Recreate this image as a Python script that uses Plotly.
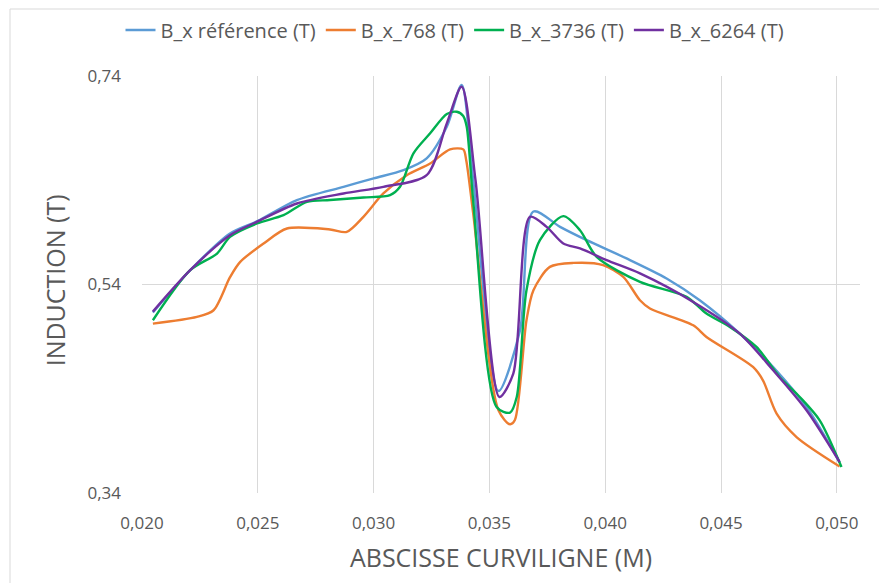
import plotly.graph_objects as go

# Values
x_ref = [0.02047, 0.02208, 0.0238, 0.0250, 0.02669, 0.0287, 0.0300, 0.03129, 0.03229, 0.03316, 0.0338,
         0.0343, 0.03539, 0.03632, 0.0369, 0.03805, 0.0392, 0.04092, 0.04265, 0.04408, 0.04581,
         0.04725, 0.04869, 0.05012]
y_ref = [0.5131, 0.5537, 0.589, 0.601, 0.621, 0.6337, 0.6418, 0.6497, 0.661, 0.6913, 0.7314,
         0.640, 0.4378, 0.496, 0.610, 0.5953, 0.5825, 0.565, 0.5458, 0.5249, 0.4929,
         0.4609, 0.4225, 0.3697]

x_768 = [0.02047, 0.02237, 0.02309, 0.0238, 0.02424, 0.02525, 0.02626, 0.02812, 0.02884, 0.02956,
         0.03042, 0.03143, 0.03244, 0.0333, 0.03387, 0.0340, 0.0343, 0.03539, 0.03589, 0.0361,
         0.0366, 0.0369, 0.03761, 0.03862, 0.03991, 0.04078, 0.0415, 0.04193, 0.0438, 0.04437,
         0.04638, 0.04681, 0.0474, 0.04826, 0.05012]
y_768 = [0.5025, 0.5089, 0.5153, 0.547, 0.5617, 0.5793, 0.5937, 0.5928, 0.5905, 0.6049,
         0.6273, 0.6449, 0.6561, 0.6696, 0.6696, 0.659, 0.608, 0.4193, 0.4059, 0.410,
         0.5057, 0.5345, 0.5569, 0.5607, 0.5586, 0.5473, 0.5249, 0.517, 0.5009, 0.4897,
         0.4609, 0.4481, 0.4161, 0.3937, 0.3655]

x_3736 = [0.02047, 0.02208, 0.02324, 0.0238, 0.02496, 0.02611, 0.02712, 0.02812, 0.02956, 0.03071,
          0.03114, 0.03172, 0.03244, 0.03316, 0.03359, 0.03387, 0.03402, 0.0343, 0.03531, 0.03589,
          0.03618, 0.0366, 0.03718, 0.03819, 0.03891, 0.03963, 0.0415, 0.04351, 0.04437, 0.04538,
          0.04653, 0.04753, 0.0484, 0.04926, 0.0502]
y_3736 = [0.5057, 0.5537, 0.5697, 0.5857, 0.5985, 0.6065, 0.6193, 0.621, 0.6235, 0.6257,
          0.6337, 0.6658, 0.685, 0.7035, 0.7057, 0.7016, 0.6913, 0.620, 0.4225, 0.4171,
          0.4321, 0.5345, 0.5825, 0.6056, 0.5921, 0.5665, 0.5425, 0.5281, 0.5121, 0.4993,
          0.4801, 0.4513, 0.4321, 0.4097, 0.3649]

x_6264 = [0.02047, 0.02208, 0.0238, 0.02496, 0.02669, 0.0287, 0.03042, 0.03229, 0.03316, 0.0338,
          0.0344, 0.03543, 0.03603, 0.03675, 0.03747, 0.03819, 0.03891, 0.04006, 0.0415, 0.0438,
          0.04581, 0.04725, 0.04869, 0.05012]
y_6264 = [0.5140, 0.5537, 0.5873, 0.6001, 0.6177, 0.6273, 0.6337, 0.6449, 0.6946, 0.7297,
          0.640, 0.4321, 0.4545, 0.6049, 0.5953, 0.5793, 0.5746, 0.5633, 0.5506, 0.5233,
          0.4929, 0.4577, 0.4193, 0.3697]

series = [
    ("B_x référence (T)", x_ref, y_ref, "#5B9BD5"),
    ("B_x_768 (T)", x_768, y_768, "#ED7D31"),
    ("B_x_3736 (T)", x_3736, y_3736, "#00B050"),
    ("B_x_6264 (T)", x_6264, y_6264, "#7030A0"),
]

fig = go.Figure()
for name, xs, ys, color in series:
    fig.add_trace(go.Scatter(
        x=xs, y=ys, name=name, mode="lines",
        line=dict(color=color, width=2.4, shape="spline", smoothing=0.8),
    ))

font_family = "Open Sans, Liberation Sans, sans-serif"
grey = "#595959"

# page body has an 8px margin, so the figure is 8px smaller than the window
W, H = 879, 575
L, R, T, B = 134, 27, 68, 90
pw, ph = W - L - R, H - T - B

fig.update_layout(
    width=W, height=H,
    margin=dict(l=L, r=R, t=T, b=B, autoexpand=False),
    plot_bgcolor="white", paper_bgcolor="white",
    separators=", ",
    font=dict(family=font_family, color=grey, size=17),
    showlegend=True,
    legend=dict(orientation="h", x=(447 - L) / pw, xanchor="center",
                y=1 + 46 / ph, yanchor="middle",
                font=dict(size=20, color=grey), itemwidth=30),
)
fig.update_xaxes(
    range=[0.020, 0.051], tick0=0.020, dtick=0.005, tickformat=".3f",
    showgrid=True, gridcolor="#D9D9D9", gridwidth=1, zeroline=False,
    showline=False, ticks="", ticklabelstandoff=18, automargin=False,
    tickfont=dict(size=17, color=grey),
    title=dict(text="ABSCISSE CURVILIGNE (M)", font=dict(size=25, color=grey), standoff=16),
)
fig.update_yaxes(
    range=[0.34, 0.74], tick0=0.34, dtick=0.2, tickformat=".2f",
    showgrid=True, gridcolor="#D9D9D9", gridwidth=1, zeroline=False,
    showline=False, ticks="", ticklabelstandoff=20, automargin=False,
    tickfont=dict(size=17, color=grey),
)

fig.add_annotation(text="INDUCTION (T)", textangle=-90, showarrow=False,
                   xref="paper", yref="paper", x=(47 - L) / pw, y=0.51,
                   xanchor="center", yanchor="middle",
                   font=dict(size=25, color=grey))

# light chart-area border
fig.add_shape(type="rect", xref="paper", yref="paper",
              x0=(2 - L) / pw, x1=(890 - L) / pw,
              y0=-(B + 5) / ph, y1=1 + (T - 1) / ph,
              line=dict(color="#D9D9D9", width=1), layer="below")

fig.write_html("out.html")
